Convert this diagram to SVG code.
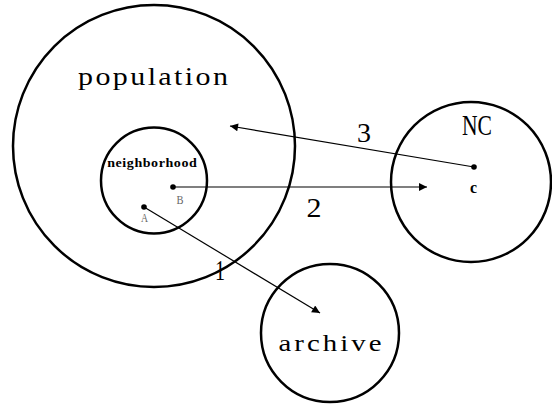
<svg xmlns="http://www.w3.org/2000/svg" width="552" height="410" viewBox="0 0 552 410">
<defs>
<style>
.c{fill:none;stroke:#000;stroke-width:2.5}
.e{stroke:#000;stroke-width:1.2;fill:none}
.t{font-family:"Liberation Serif","Times New Roman",serif;fill:#000;text-anchor:middle}
.g{fill:#666}
.d{fill:#000}
</style>
<marker id="ah" viewBox="0 0 10 10" refX="10" refY="5" markerWidth="12" markerHeight="8" markerUnits="userSpaceOnUse" orient="auto">
<path d="M0,0 L10,5 L0,10 z" fill="#000"/>
</marker>
</defs>
<rect width="552" height="410" fill="#fff"/>
<g id="population">
<circle class="c" cx="154" cy="146" r="141"/>
<text class="t" transform="translate(153,85) scale(1.2,1)" x="0" y="0" font-size="25" textLength="125" lengthAdjust="spacing">population</text>
</g>
<g id="neighborhood">
<circle class="c" cx="154" cy="180.5" r="53"/>
<text class="t" transform="translate(152,167) scale(1.08,1)" x="0" y="0" font-size="13" font-weight="bold" textLength="83" lengthAdjust="spacing">neighborhood</text>
<circle class="d" cx="173" cy="187" r="2.8"/>
<text class="t g" x="180" y="204" font-size="13" textLength="7" lengthAdjust="spacingAndGlyphs">B</text>
<circle class="d" cx="144" cy="207" r="2.8"/>
<text class="t g" x="144.5" y="222" font-size="13" textLength="7" lengthAdjust="spacingAndGlyphs">A</text>
</g>
<g id="NC">
<circle class="c" cx="471" cy="182" r="80"/>
<text class="t" x="477" y="135" font-size="29" textLength="30" lengthAdjust="spacingAndGlyphs">NC</text>
<circle class="d" cx="474" cy="167" r="2.8"/>
<text class="t" x="473.5" y="193" font-size="16" font-weight="bold" textLength="7" lengthAdjust="spacingAndGlyphs">c</text>
</g>
<g id="archive">
<circle class="c" cx="330" cy="333" r="69"/>
<text class="t" transform="translate(330,351) scale(1.2,1)" x="0" y="0" font-size="24" textLength="86" lengthAdjust="spacing">archive</text>
</g>
<g id="connectors">
<line class="e" x1="144" y1="207" x2="320" y2="313" marker-end="url(#ah)"/>
<line class="e" x1="173" y1="187" x2="427" y2="187" marker-end="url(#ah)"/>
<line class="e" x1="474" y1="167" x2="230" y2="126" marker-end="url(#ah)"/>
<text class="t" x="364" y="142" font-size="28" textLength="14" lengthAdjust="spacingAndGlyphs">3</text>
<text class="t" x="314" y="217" font-size="27" textLength="15" lengthAdjust="spacingAndGlyphs">2</text>
<text class="t" x="220" y="280" font-size="29" textLength="10" lengthAdjust="spacingAndGlyphs">1</text>
</g>
</svg>
